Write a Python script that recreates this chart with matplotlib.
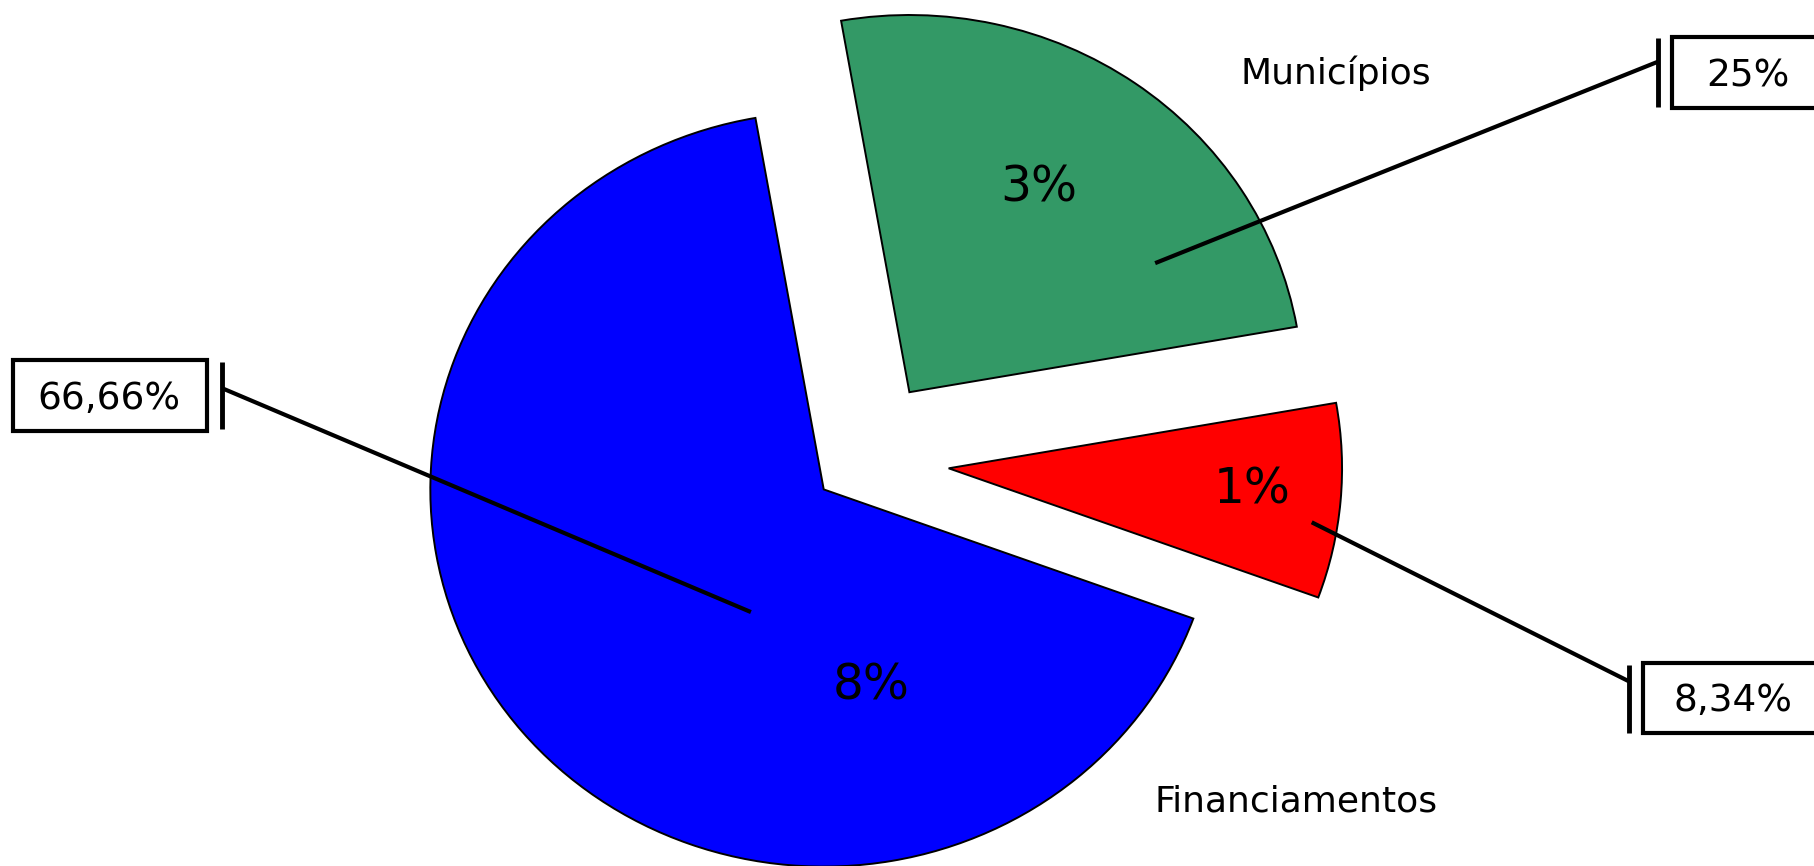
import matplotlib
matplotlib.use("Agg")
import matplotlib.pyplot as plt
from matplotlib.patches import Rectangle

# --- dados ---
valores = [66.66, 8.34, 25.0]
cores = ["#0000FF", "#FF0000", "#339966"]
explode = [0.118, 0.228, 0.222]
rotulos_internos = ["8%", "1%", "3%"]
rotulos_caixa = ["66,66%", "8,34%", "25%"]
categorias = ["Financiamentos", "Municípios"]

# --- layout (pixels da figura 1814x866, dpi 100) ---
W, H = 1814, 866
RX, RY = 393.4, 377.2      # pixels por unidade de raio (a pizza é levemente achatada)
CX, CY = 859.3, 460.8      # centro da pizza em pixels (origem no topo-esquerdo)

fig = plt.figure(figsize=(W / 100, H / 100), dpi=100)
ax = fig.add_axes([0, 0, 1, 1])

ax.pie(
    valores,
    explode=explode,
    colors=cores,
    startangle=100,
    counterclock=True,
    wedgeprops=dict(edgecolor="black", linewidth=1.4),
)
ax.set_aspect("auto")
ax.set_xlim(-CX / RX, (W - CX) / RX)
ax.set_ylim((CY - H) / RY, CY / RY)
ax.axis("off")

# rótulos dentro das fatias
pos_internos = [(0.030, -0.634), (0.998, -0.113), (0.456, 0.687)]
for txt, (x, y) in zip(rotulos_internos, pos_internos):
    ax.text(x, y, txt, ha="center", va="baseline", fontsize=35)

# nomes das categorias
pos_categorias = [(1.109, -0.930), (1.212, 0.999)]
for txt, (x, y) in zip(categorias, pos_categorias):
    ax.text(x, y, txt, ha="center", va="baseline", fontsize=26)

# linhas de chamada + barra + caixa com o percentual
chamadas = [
    # inicio, fim (na barra), barra (y0, y1), caixa (x0, x1, y0, y1), centro do texto x
    ((-0.2755, -0.401), (-1.621, 0.193), (0.083, 0.263), (-2.152, -1.659, 0.080, 0.266), -1.907),
    ((1.150, -0.163), (1.957, -0.585), (-0.541, -0.722), (1.992, 2.450, -0.535, -0.722), 2.221),
    ((0.752, 0.524), (2.030, 1.058), (1.121, 0.938), (2.066, 2.450, 1.124, 0.935), 2.258),
]
for txt, (ini, fim, barra, caixa, tx) in zip(rotulos_caixa, chamadas):
    ax.plot([ini[0], fim[0]], [ini[1], fim[1]], color="black", lw=3,
            solid_capstyle="butt")
    ax.plot([fim[0], fim[0]], barra, color="black", lw=3.5, solid_capstyle="butt")
    x0, x1, y0, y1 = caixa
    ax.add_patch(Rectangle((x0, min(y0, y1)), x1 - x0, abs(y1 - y0),
                           facecolor="white", edgecolor="black", lw=3))
    ax.text(tx, (y0 + y1) / 2 - 0.036, txt, ha="center", va="baseline", fontsize=27)

fig.savefig("out.png", dpi=100)
plt.close(fig)
